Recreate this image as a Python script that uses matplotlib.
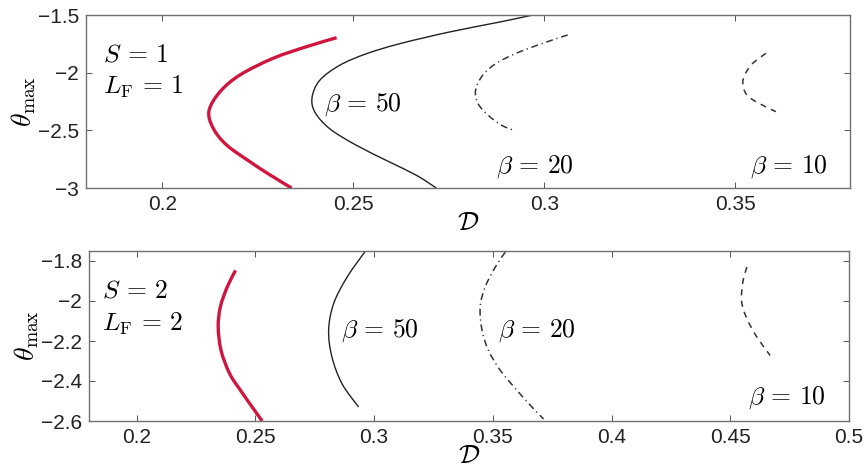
import matplotlib
matplotlib.use("Agg")
import matplotlib.pyplot as plt
from matplotlib.path import Path
from matplotlib.patches import PathPatch
import numpy as np

plt.rcParams['mathtext.fontset'] = 'cm'
plt.rcParams['font.family'] = ['Liberation Sans', 'DejaVu Sans']

# ---- top panel (S = 1, L_F = 1) ----
top_red_x = [0.2456, 0.2377, 0.2290, 0.2203, 0.2151, 0.2122, 0.2133, 0.2168, 0.2229, 0.2282, 0.2338]
top_red_y = [-1.697, -1.775, -1.875, -2.020, -2.165, -2.330, -2.482, -2.627, -2.772, -2.887, -3.0]
top_b50_x = [0.2970, 0.2883, 0.2752, 0.2621, 0.2534, 0.2464, 0.2412, 0.2392, 0.2399, 0.2438, 0.2508, 0.2595, 0.2665, 0.2717]
top_b50_y = [-1.5, -1.561, -1.647, -1.749, -1.836, -1.936, -2.066, -2.211, -2.341, -2.486, -2.630, -2.775, -2.890, -3.0]
top_b20_x = [0.3061, 0.2996, 0.2926, 0.2874, 0.2839, 0.2820, 0.2826, 0.2852, 0.2887, 0.2917]
top_b20_y = [-1.673, -1.745, -1.832, -1.919, -2.020, -2.150, -2.266, -2.367, -2.454, -2.497]
top_b10_x = [0.3580, 0.3541, 0.3520, 0.3527, 0.3554, 0.3606]
top_b10_y = [-1.832, -1.934, -2.064, -2.179, -2.252, -2.338]
top_xticks = [0.2, 0.25, 0.3, 0.35]
top_xticklabels = ['0.2', '0.25', '0.3', '0.35']
top_yticks = [-3, -2.5, -2, -1.5]
top_yticklabels = ['\u22123', '\u22122.5', '\u22122', '\u22121.5']

# ---- bottom panel (S = 2, L_F = 2) ----
bot_red_x = [0.2417, 0.2382, 0.2353, 0.2344, 0.2356, 0.2392, 0.2438, 0.2487, 0.2529]
bot_red_y = [-1.847, -1.930, -2.030, -2.130, -2.247, -2.363, -2.447, -2.530, -2.6]
bot_b50_x = [0.2964, 0.2887, 0.2830, 0.2809, 0.2823, 0.2865, 0.2935]
bot_b50_y = [-1.75, -1.880, -2.013, -2.147, -2.280, -2.413, -2.530]
bot_b20_x = [0.3553, 0.3511, 0.3468, 0.3447, 0.3455, 0.3482, 0.3532, 0.3602, 0.3665, 0.3714]
bot_b20_y = [-1.755, -1.830, -1.930, -2.030, -2.147, -2.247, -2.347, -2.447, -2.530, -2.590]
bot_b10_x = [0.4570, 0.4553, 0.4548, 0.4570, 0.4612, 0.4668]
bot_b10_y = [-1.830, -1.905, -2.005, -2.088, -2.180, -2.272]
bot_xticks = [0.2, 0.25, 0.3, 0.35, 0.4, 0.45, 0.5]
bot_xticklabels = ['0.2', '0.25', '0.3', '0.35', '0.4', '0.45', '0.5']
bot_yticks = [-2.6, -2.4, -2.2, -2.0, -1.8]
bot_yticklabels = ['\u22122.6', '\u22122.4', '\u22122.2', '\u22122', '\u22121.8']

RED = '#d0163e'
DASHDOT = (0, (4.5, 2.5, 0.8, 2.5))
DASHED = (0, (4.0, 3.5))


def smooth_curve(ax, xs, ys, **kw):
    """Draw a smooth (Catmull-Rom as cubic Bezier) curve through the given points."""
    P = np.column_stack([xs, ys])
    n = len(P)
    verts = [P[0]]
    codes = [Path.MOVETO]
    for i in range(n - 1):
        p0 = P[i - 1] if i > 0 else P[i]
        p1 = P[i]
        p2 = P[i + 1]
        p3 = P[i + 2] if i + 2 < n else P[i + 1]
        c1 = p1 + (p2 - p0) / 6.0
        c2 = p2 - (p3 - p1) / 6.0
        verts += [c1, c2, p2]
        codes += [Path.CURVE4] * 3
    patch = PathPatch(Path(verts, codes), facecolor='none', **kw)
    patch.set_clip_on(True)
    ax.add_patch(patch)


fig = plt.figure(figsize=(8.67, 4.69), dpi=100)
ax1 = fig.add_axes([86/867, 1-188/469, (850-86)/867, (188-15)/469])
ax2 = fig.add_axes([89/867, 1-421/469, (849-89)/867, (421-251)/469])


def style(ax, xt, xtl, yt, ytl):
    ax.set_xticks(xt)
    ax.set_xticklabels(xtl)
    ax.set_yticks(yt)
    ax.set_yticklabels(ytl)
    ax.tick_params(direction='in', top=True, right=True, length=4, width=0.7,
                   color='#555555', labelsize=15, pad=5, labelcolor='#222222')
    for s in ax.spines.values():
        s.set_color('#707070')
        s.set_linewidth(1.0)
    ax.set_xlabel(r'$\mathcal{D}$', fontsize=19, labelpad=-2)
    ax.set_ylabel(r'$\theta_{\max}$', fontsize=20, labelpad=0)


TS = 18.5

# top
smooth_curve(ax1, top_red_x, top_red_y, edgecolor=RED, lw=2.4, capstyle='butt')
smooth_curve(ax1, top_b50_x, top_b50_y, edgecolor='#222222', lw=1.0)
smooth_curve(ax1, top_b20_x, top_b20_y, edgecolor='#333333', lw=1.1, linestyle=DASHDOT)
smooth_curve(ax1, top_b10_x, top_b10_y, edgecolor='#333333', lw=1.1, linestyle=DASHED)
ax1.set_xlim(0.18, 0.38)
ax1.set_ylim(-3, -1.5)
style(ax1, top_xticks, top_xticklabels, top_yticks, top_yticklabels)
ax1.text(0.1845, -1.905, r'$S\,=\,1$', fontsize=TS, va='baseline', ha='left')
ax1.text(0.1845, -2.18, r'$L_{\mathrm{F}}\,=\,1$', fontsize=TS, va='baseline', ha='left')
ax1.text(0.2422, -2.326, r'$\beta\,=\,50$', fontsize=TS, va='baseline', ha='left')
ax1.text(0.2872, -2.867, r'$\beta\,=\,20$', fontsize=TS, va='baseline', ha='left')
ax1.text(0.3537, -2.867, r'$\beta\,=\,10$', fontsize=TS, va='baseline', ha='left')

# bottom
smooth_curve(ax2, bot_red_x, bot_red_y, edgecolor=RED, lw=2.4, capstyle='butt')
smooth_curve(ax2, bot_b50_x, bot_b50_y, edgecolor='#222222', lw=1.0)
smooth_curve(ax2, bot_b20_x, bot_b20_y, edgecolor='#333333', lw=1.1, linestyle=DASHDOT)
smooth_curve(ax2, bot_b10_x, bot_b10_y, edgecolor='#333333', lw=1.1, linestyle=DASHED)
ax2.set_xlim(0.18, 0.5)
ax2.set_ylim(-2.6, -1.75)
style(ax2, bot_xticks, bot_xticklabels, bot_yticks, bot_yticklabels)
ax2.text(0.1855, -1.985, r'$S\,=\,2$', fontsize=TS, va='baseline', ha='left')
ax2.text(0.1855, -2.147, r'$L_{\mathrm{F}}\,=\,2$', fontsize=TS, va='baseline', ha='left')
ax2.text(0.2862, -2.18, r'$\beta\,=\,50$', fontsize=TS, va='baseline', ha='left')
ax2.text(0.3523, -2.18, r'$\beta\,=\,20$', fontsize=TS, va='baseline', ha='left')
ax2.text(0.4576, -2.513, r'$\beta\,=\,10$', fontsize=TS, va='baseline', ha='left')

fig.savefig('out.png', dpi=100)
